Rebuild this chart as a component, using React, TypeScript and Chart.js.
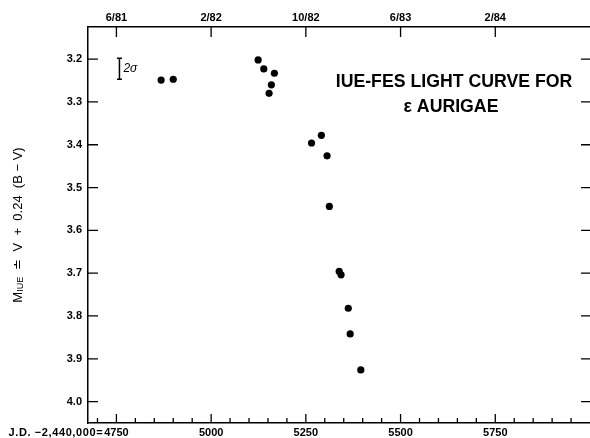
import React, { useEffect, useRef } from 'react';
import { Chart, registerables } from 'chart.js';

Chart.register(...registerables);

// Julian Date - 2,440,000 of each observation
const JD = [4868, 4900, 5124, 5139, 5167, 5159, 5153, 5291, 5265, 5306, 5312, 5338, 5343, 5362, 5367, 5395];
// M_IUE magnitude of each observation
const MAG = [3.249, 3.247, 3.202, 3.223, 3.233, 3.26, 3.28, 3.378, 3.396, 3.426, 3.544, 3.696, 3.704, 3.782, 3.842, 3.926];

const X_MIN = 4675;
const X_MAX = 6000;
const Y_MIN = 3.125;
const Y_MAX = 4.05;

const BOTTOM_MAJOR = [4750, 5000, 5250, 5500, 5750];
const BOTTOM_MINOR_STEP = 50;
const TOP_LABELS = ['6/81', '2/82', '10/82', '6/83', '2/84'];
const Y_TICKS = [3.2, 3.3, 3.4, 3.5, 3.6, 3.7, 3.8, 3.9, 4.0];

// 2-sigma error bar marker
const ERR_X = 4758;
const ERR_TOP = 3.198;
const ERR_BOTTOM = 3.247;

const TITLE_LINES = ['IUE-FES LIGHT CURVE FOR', 'ε AURIGAE'];
const JD_PREFIX = 'J.D. −2,440,000=';

const FONT = '"Liberation Sans", Arial, Helvetica, sans-serif';

const bottomTicks: number[] = [];
for (let v = 4700; v < X_MAX; v += BOTTOM_MINOR_STEP) bottomTicks.push(v);

const decor = {
  id: 'decor',
  afterDraw(chart: any) {
    const { ctx, chartArea: a, scales } = chart;
    const x = scales.x;
    const x2 = scales.x2;
    const y = scales.y;
    ctx.save();
    ctx.strokeStyle = '#000';
    ctx.fillStyle = '#000';
    ctx.lineWidth = 1.3;
    ctx.beginPath();
    x.ticks.forEach((t: any) => {
      const px = x.getPixelForValue(t.value);
      const len = BOTTOM_MAJOR.includes(t.value) ? 9 : 5;
      ctx.moveTo(px, a.bottom);
      ctx.lineTo(px, a.bottom - len);
    });
    x2.ticks.forEach((t: any) => {
      const px = x2.getPixelForValue(t.value);
      ctx.moveTo(px, a.top);
      ctx.lineTo(px, a.top + 10);
    });
    y.ticks.forEach((t: any) => {
      const py = y.getPixelForValue(t.value);
      ctx.moveTo(a.left, py);
      ctx.lineTo(a.left + 10, py);
      ctx.moveTo(a.right, py);
      ctx.lineTo(a.right - 9, py);
    });
    ctx.stroke();

    // error bar
    const ex = x.getPixelForValue(ERR_X);
    const et = y.getPixelForValue(ERR_TOP);
    const eb = y.getPixelForValue(ERR_BOTTOM);
    ctx.lineWidth = 1.5;
    ctx.beginPath();
    ctx.moveTo(ex, et);
    ctx.lineTo(ex, eb);
    ctx.moveTo(ex - 2.5, et);
    ctx.lineTo(ex + 2.5, et);
    ctx.moveTo(ex - 2.5, eb);
    ctx.lineTo(ex + 2.5, eb);
    ctx.stroke();
    ctx.font = `italic 12px ${FONT}`;
    ctx.textAlign = 'left';
    ctx.textBaseline = 'middle';
    ctx.fillText('2σ', ex + 4, (et + eb) / 2);

    // title
    ctx.font = `bold 17.7px ${FONT}`;
    ctx.textAlign = 'center';
    ctx.textBaseline = 'middle';
    const tcx = 454;
    ctx.fillText(TITLE_LINES[0], tcx, 82);
    ctx.fillText(TITLE_LINES[1], tcx - 3, 107);

    // J.D. prefix before the first bottom label
    ctx.font = `bold 11px ${FONT}`;
    const firstPx = x.getPixelForValue(BOTTOM_MAJOR[0]);
    const w0 = ctx.measureText(String(BOTTOM_MAJOR[0])).width;
    (ctx as any).letterSpacing = '0.6px';
    ctx.textAlign = 'right';
    ctx.textBaseline = 'middle';
    ctx.fillText(JD_PREFIX, firstPx - w0 / 2 - 1, a.bottom + 3 + 6.6);
    (ctx as any).letterSpacing = '0px';

    // y-axis title, rotated, with subscript
    ctx.translate(18, 225);
    ctx.rotate(-Math.PI / 2);
    const big = `13px ${FONT}`;
    const small = `9px ${FONT}`;
    const parts: [string, string, number][] = [
      ['M', big, 0],
      ['IUE', small, 3],
      ['  ≐  V  +  0.24  (B − V)', big, 0],
    ];
    let total = 0;
    parts.forEach(([s, f]) => { ctx.font = f; total += ctx.measureText(s).width; });
    let cx = -total / 2;
    ctx.textAlign = 'left';
    ctx.textBaseline = 'middle';
    parts.forEach(([s, f, dy]) => {
      ctx.font = f;
      ctx.fillText(s, cx, dy);
      cx += ctx.measureText(s).width;
    });
    ctx.restore();
  },
};

export default function App() {
  const ref = useRef<HTMLCanvasElement | null>(null);
  useEffect(() => {
    if (!ref.current) return;
    const chart = new Chart(ref.current, {
      type: 'scatter',
      data: {
        datasets: [
          {
            data: JD.map((v, i) => ({ x: v, y: MAG[i] })),
            backgroundColor: '#000',
            borderWidth: 0,
            pointRadius: 3.6,
          },
        ],
      },
      options: {
        responsive: false,
        animation: false,
        devicePixelRatio: 1,
        layout: { autoPadding: false, padding: 0 },
        plugins: {
          legend: { display: false },
          tooltip: { enabled: false },
          title: { display: false },
        },
        scales: {
          x: {
            type: 'linear',
            position: 'bottom',
            min: X_MIN,
            max: X_MAX,
            grid: { display: false, drawTicks: false },
            border: { display: true, color: '#000', width: 1.5 },
            afterBuildTicks: (s: any) => {
              s.ticks = bottomTicks.map((v) => ({ value: v }));
            },
            afterFit: (s: any) => {
              s.height = 15;
              s.paddingRight = 0;
            },
            ticks: {
              autoSkip: false,
              maxRotation: 0,
              padding: 3,
              color: '#000',
              font: { family: FONT, size: 11, weight: 'bold' },
              callback: (v: any) => (BOTTOM_MAJOR.includes(Number(v)) ? String(v) : ''),
            },
          },
          x2: {
            type: 'linear',
            position: 'top',
            min: X_MIN,
            max: X_MAX,
            grid: { display: false, drawTicks: false },
            border: { display: true, color: '#000', width: 1.5 },
            afterBuildTicks: (s: any) => {
              s.ticks = BOTTOM_MAJOR.map((v) => ({ value: v }));
            },
            afterFit: (s: any) => {
              s.height = 27;
              s.paddingRight = 0;
            },
            ticks: {
              autoSkip: false,
              maxRotation: 0,
              padding: 2,
              color: '#000',
              font: { family: FONT, size: 11, weight: 'bold' },
              callback: (v: any) => TOP_LABELS[BOTTOM_MAJOR.indexOf(Number(v))] ?? '',
            },
          },
          y: {
            type: 'linear',
            position: 'left',
            reverse: true,
            min: Y_MIN,
            max: Y_MAX,
            grid: { display: false, drawTicks: false },
            border: { display: true, color: '#000', width: 1.5 },
            afterBuildTicks: (s: any) => {
              s.ticks = Y_TICKS.map((v) => ({ value: v }));
            },
            afterFit: (s: any) => {
              s.width = 88;
            },
            ticks: {
              autoSkip: false,
              padding: 6,
              color: '#000',
              font: { family: FONT, size: 11, weight: 'bold' },
              callback: (v: any) => Number(v).toFixed(1),
            },
          },
        },
      } as any,
      plugins: [decor],
    });
    return () => chart.destroy();
  }, []);
  return (
    <div style={{ position: 'absolute', left: 0, top: 0, width: 590, height: 438, background: '#fff' }}>
      <canvas ref={ref} width={590} height={438} style={{ display: 'block' }} />
    </div>
  );
}
